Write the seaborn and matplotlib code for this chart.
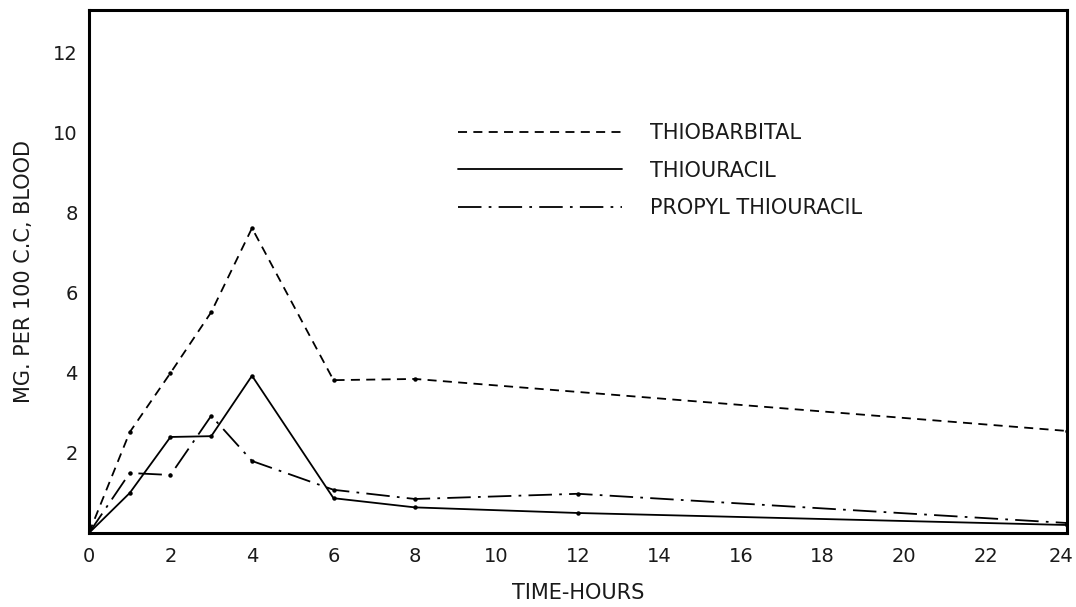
import matplotlib
matplotlib.use("Agg")
import matplotlib.pyplot as plt
import matplotlib.transforms as mtransforms
import seaborn as sns
import pandas as pd

# Blood levels (mg per 100 c.c.) after dosing, by hour
thiobarbital_hours = [0, 1, 2, 3, 4, 6, 8, 24]
thiobarbital_mg = [0.0, 2.52, 4.0, 5.52, 7.62, 3.82, 3.85, 2.55]

thiouracil_hours = [0, 1, 2, 3, 4, 6, 8, 12, 24]
thiouracil_mg = [0.0, 1.0, 2.4, 2.42, 3.93, 0.87, 0.64, 0.5, 0.2]

propyl_hours = [0, 1, 2, 3, 4, 6, 8, 12, 24]
propyl_mg = [0.0, 1.5, 1.45, 2.93, 1.8, 1.08, 0.85, 0.98, 0.25]

x_ticks = list(range(0, 25, 2))
y_ticks = [2, 4, 6, 8, 10, 12]

sns.set_theme(style="white")
plt.rcParams["font.family"] = ["DejaVu Sans"]

fig = plt.figure(figsize=(10.76, 6.07), dpi=100)
ax = fig.add_axes([0.0827, 0.1219, 0.9090, 0.8616])

series = [
    ("THIOBARBITAL", thiobarbital_hours, thiobarbital_mg, (0, (5, 3.5))),
    ("THIOURACIL", thiouracil_hours, thiouracil_mg, "-"),
    ("PROPYL THIOURACIL", propyl_hours, propyl_mg, (0, (13, 4, 1.5, 4))),
]

for name, hrs, vals, ls in series:
    df = pd.DataFrame({"hours": hrs, "mg": vals})
    sns.lineplot(data=df, x="hours", y="mg", ax=ax, color="black",
                 linestyle=ls, linewidth=1.3, marker="o", markersize=3.2,
                 markeredgewidth=0, label=name)

ax.set_xlim(0, 24)
ax.set_ylim(0, 13.07)
ax.set_xticks(x_ticks)
ax.set_xticklabels([str(t) for t in x_ticks], fontsize=14)
ax.set_yticks(y_ticks)
ax.set_yticklabels([str(t) for t in y_ticks], fontsize=14)
ax.tick_params(axis="both", direction="in", length=10, width=1.3,
               color="black", labelcolor="#1a1a1a", pad=8)
ax.tick_params(axis="x", pad=10)

# keep the last hour label inside the canvas
last = ax.get_xticklabels()[-1]
last.set_transform(last.get_transform() +
                   mtransforms.ScaledTranslation(-6 / 100, 0, fig.dpi_scale_trans))

for side in ["left", "right", "top", "bottom"]:
    ax.spines[side].set_visible(True)
    ax.spines[side].set_color("black")
    ax.spines[side].set_linewidth(2.2)

ax.set_xlabel("TIME-HOURS", fontsize=15, color="#1a1a1a", labelpad=12)
ax.set_ylabel("MG. PER 100 C.C, BLOOD", fontsize=15, color="#1a1a1a", labelpad=14)

leg = ax.legend(loc="upper left", bbox_to_anchor=(0.358, 0.82), frameon=False,
                fontsize=15, handlelength=7.9, handletextpad=1.3,
                labelspacing=0.85, labelcolor="#1a1a1a")
for h in leg.legend_handles:
    h.set_marker("")

fig.savefig("out.png", dpi=100)
